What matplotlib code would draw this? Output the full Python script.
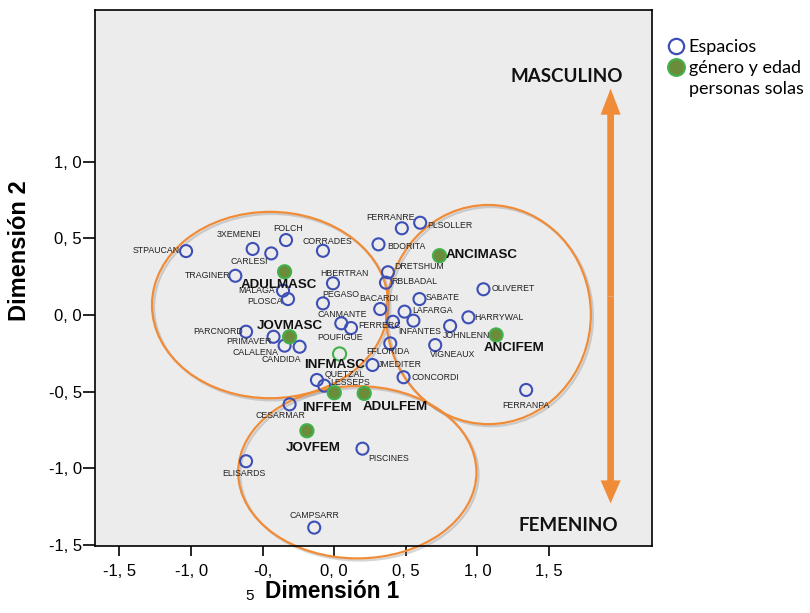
import matplotlib
matplotlib.use("Agg")
import matplotlib.pyplot as plt
from matplotlib.patches import Ellipse
from matplotlib.lines import Line2D
import matplotlib.patheffects as pe

# espacios (blue open circles)
espacios = ['STPAUCAN', '3XEMENEI', 'FOLCH', 'CARLESI', 'CORRADES', 'TRAGINER',
            'MALAGA', 'PLOSCA', 'HBERTRAN', 'PEGASO', 'CANMANTE', 'POUFIGUE',
            'FERRERC', 'BACARDI', 'RBLBADAL', 'DRETSHUM', 'BDORITA', 'FERRANRE',
            'PLSOLLER', 'SABATE', 'OLIVERET', 'LAFARGA', 'INFANTES', 'HARRYWAL',
            'JOHNLENN', 'VIGNEAUX', 'FFLORIDA', 'JMEDITER', 'CONCORDI', 'QUETZAL',
            'LESSEPS', 'CESARMAR', 'PISCINES', 'ELISARDS', 'CAMPSARR', 'FERRANPA',
            'PARCNORD', 'PRIMAVER', 'CALALENA', 'CANDIDA']
esp_x = [-1.035, -0.570, -0.337, -0.440, -0.079, -0.691,
         -0.358, -0.323, -0.009, -0.079, 0.049, 0.117,
         0.410, 0.321, 0.361, 0.375, 0.309, 0.472,
         0.600, 0.595, 1.042, 0.491, 0.553, 0.937,
         0.809, 0.705, 0.391, 0.267, 0.484, -0.121,
         -0.070, -0.312, 0.197, -0.616, -0.140, 1.340,
         -0.616, -0.424, -0.347, -0.242]
esp_y = [0.417, 0.431, 0.489, 0.402, 0.419, 0.256,
         0.159, 0.104, 0.207, 0.076, -0.054, -0.085,
         -0.044, 0.039, 0.211, 0.279, 0.461, 0.566,
         0.602, 0.104, 0.168, 0.022, -0.037, -0.015,
         -0.072, -0.196, -0.185, -0.326, -0.406, -0.424,
         -0.461, -0.583, -0.872, -0.954, -1.387, -0.489,
         -0.109, -0.142, -0.200, -0.207]

# genero y edad personas solas (green)
grupos = ['ADULMASC', 'JOVMASC', 'ANCIMASC', 'ANCIFEM', 'INFFEM', 'ADULFEM', 'JOVFEM', 'INFMASC']
grp_x = [-0.347, -0.312, 0.735, 1.130, 0.000, 0.209, -0.191, 0.037]
grp_y = [0.282, -0.142, 0.387, -0.130, -0.507, -0.511, -0.755, -0.254]

# hand drawn cluster outlines: (cx, cy, width, height)
clusters = [(-0.448, 0.065, 1.65, 1.216),
            (1.077, 0.003, 1.43, 1.43),
            (0.161, -1.026, 1.664, 1.124)]

xticks = [-1.5, -1.0, -0.5, 0.0, 0.5, 1.0, 1.5]
xticklabels = ['-1, 5', '-1, 0', '-0,', '0, 0', '0, 5', '1, 0', '1, 5']
yticks = [-1.5, -1.0, -0.5, 0.0, 0.5, 1.0]
yticklabels = ['-1, 5', '-1, 0', '-0, 5', '0, 0', '0, 5', '1, 0']

# label placement (ha, dx, dy in pixels)
lab_pos = {
    'STPAUCAN': ('right', -6, 1), '3XEMENEI': ('center', -14, 14), 'FOLCH': ('center', 2, 12),
    'CARLESI': ('right', -3, -8), 'CORRADES': ('center', 4, 9), 'TRAGINER': ('right', -5, 0),
    'MALAGA': ('right', -8, 0), 'PLOSCA': ('right', -5, -2), 'HBERTRAN': ('center', 11, 10),
    'PEGASO': ('center', 18, 9), 'CANMANTE': ('center', 1, 9), 'POUFIGUE': ('center', -11, -9),
    'FERRERC': ('right', 8, -4), 'BACARDI': ('center', -1, 11), 'RBLBADAL': ('left', 5, 1),
    'DRETSHUM': ('left', 6, 6), 'BDORITA': ('left', 9, -2), 'FERRANRE': ('center', -11, 11),
    'PLSOLLER': ('left', 7, -3), 'SABATE': ('left', 6, 2), 'OLIVERET': ('left', 8, 1),
    'LAFARGA': ('left', 8, 1), 'INFANTES': ('center', 6, -11), 'HARRYWAL': ('left', 6, 0),
    'JOHNLENN': ('center', 16, -9), 'VIGNEAUX': ('center', 17, -9), 'FFLORIDA': ('center', -2, -8),
    'JMEDITER': ('left', 5, 0), 'CONCORDI': ('left', 8, 0), 'QUETZAL': ('left', 8, 6),
    'LESSEPS': ('left', 6, 3), 'CESARMAR': ('center', -9, -11), 'PISCINES': ('left', 6, -10),
    'ELISARDS': ('center', -2, -12), 'CAMPSARR': ('center', 0, 12), 'FERRANPA': ('center', 0, -16),
    'PARCNORD': ('right', -3, 0), 'PRIMAVER': ('right', -2, -5), 'CALALENA': ('right', -6, -7),
    'CANDIDA': ('center', -18, -13),
    'ADULMASC': ('center', -6, -13), 'JOVMASC': ('center', 0, 11), 'ANCIMASC': ('left', 6, 1),
    'ANCIFEM': ('center', 18, -13), 'INFFEM': ('center', -7, -15), 'ADULFEM': ('center', 31, -14),
    'JOVFEM': ('center', 6, -17), 'INFMASC': ('center', -5, -11),
}

blue = '#3d4fb5'
green_face = '#6b8c3b'
green_edge = '#43b14b'
orange = '#f08c38'

fig = plt.figure(figsize=(8.1, 6.13), dpi=100)
ax = fig.add_axes([95 / 810, 1 - 546 / 613, 557 / 810, 536 / 613])
ax.set_facecolor('#ececec')
ax.set_xlim(-1.671, 2.219)
ax.set_ylim(-1.507, 1.99)

for cx, cy, w, h in clusters:
    e = Ellipse((cx, cy), w, h, fill=False, edgecolor=orange, linewidth=1.6, clip_on=False, zorder=2)
    e.set_path_effects([pe.SimpleLineShadow(offset=(1.5, -1.5), shadow_color='#888888', alpha=0.35),
                        pe.Normal()])
    ax.add_patch(e)

ax.scatter(esp_x, esp_y, s=75, facecolors='none', edgecolors=blue, linewidths=1.5, zorder=3)
fcs = [green_face] * (len(grupos) - 1) + ['none']
ax.scatter(grp_x, grp_y, s=90, facecolors=fcs, edgecolors=green_edge, linewidths=1.5, zorder=3)

for name, x, y in zip(espacios, esp_x, esp_y):
    ha, dx, dy = lab_pos[name]
    ax.annotate(name, (x, y), xytext=(dx, dy), textcoords='offset pixels', ha=ha, va='center',
                fontsize=6.3, family='Liberation Sans', color='#222222', zorder=4)
for name, x, y in zip(grupos, grp_x, grp_y):
    ha, dx, dy = lab_pos[name]
    ax.annotate(name, (x, y), xytext=(dx, dy), textcoords='offset pixels', ha=ha, va='center',
                fontsize=9.6, family='Liberation Sans', fontweight='bold', color='#111111', zorder=4)

# masculino / femenino arrow
ax.arrow(1.93, 0.12, 0, 1.357, width=0.047, head_width=0.14, head_length=0.17,
         length_includes_head=True, color=orange, linewidth=0, zorder=2)
ax.arrow(1.93, 0.12, 0, -1.349, width=0.047, head_width=0.14, head_length=0.15,
         length_includes_head=True, color=orange, linewidth=0, zorder=2)
ax.text(1.627, 1.557, 'MASCULINO', ha='center', va='center', fontsize=13.5,
        family='Lato', fontweight='bold', color='#111111')
ax.text(1.636, -1.373, 'FEMENINO', ha='center', va='center', fontsize=13.5,
        family='Lato', fontweight='bold', color='#111111')

ax.set_xticks(xticks)
ax.set_xticklabels(xticklabels, family='Liberation Sans')
ax.set_yticks(yticks)
ax.set_yticklabels(yticklabels, family='Liberation Sans')
ax.tick_params(axis='x', direction='out', length=7, width=1.2, labelsize=12, pad=6)
ax.tick_params(axis='y', direction='out', length=8.5, width=1.2, labelsize=12, pad=1)
for s in ax.spines.values():
    s.set_linewidth(1.2)

fig.text(250 / 810, 1 - 596 / 613, '5', ha='center', va='center', fontsize=11, family='Liberation Sans')
fig.text(332 / 810, 1 - 592 / 613, 'Dimensión 1', ha='center', va='center', fontsize=16.3,
         family='Liberation Sans', fontweight='bold')
fig.text(20 / 810, 1 - 251 / 613, 'Dimensión 2', ha='center', va='center', rotation=90,
         fontsize=17, family='Liberation Sans', fontweight='bold')

handles = [Line2D([], [], linestyle='none', marker='o', ms=11, mfc='none', mec=blue, mew=1.6),
           Line2D([], [], linestyle='none', marker='o', ms=12, mfc=green_face, mec=green_edge, mew=1.6),
           Line2D([], [], linestyle='none')]
fig.legend(handles, ['Espacios', 'género y edad', 'personas solas'], loc='upper left',
           bbox_to_anchor=(659 / 810, 1 - 30 / 613), frameon=False, handlelength=0.9,
           handletextpad=0.25, labelspacing=0.28, borderpad=0,
           prop={'family': 'Lato', 'size': 13})

fig.savefig('out.png', dpi=100)
